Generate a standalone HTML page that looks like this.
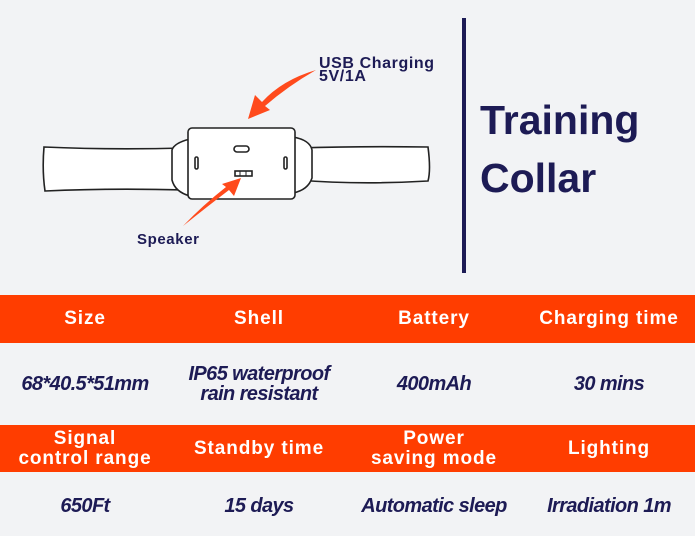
<!DOCTYPE html>
<html><head><meta charset="utf-8"><style>
body{margin:0;width:695px;height:536px;background:#f2f3f5;position:relative;overflow:hidden;font-family:"Liberation Sans",sans-serif}
.band{position:absolute;left:0;width:695px;background:#ff3d00}
.c{position:absolute;width:174px;text-align:center;transform:translateY(-50%)}
.h{color:#fff;font-weight:bold;font-size:19px;line-height:20px;letter-spacing:0.9px}
.v{color:#1d1b55;font-weight:bold;font-style:italic;font-size:20px;line-height:20px;letter-spacing:-0.6px}
</style></head><body>
<svg width="695" height="290" style="position:absolute;left:0;top:0">
<g fill="#fff" stroke="#222" stroke-width="1.6">
<path d="M44 147 Q110 150 185 148 L185 190 Q110 188 45 191 Q42 170 44 147Z"/>
<path d="M297 148 Q360 146 428 147 Q431 170 428 181 Q360 185 297 180Z"/>
<path d="M190 139 Q174 143 172 150 L172 180 Q175 192 190 196Z"/>
<path d="M293 137 Q310 140 312 150 L312 178 Q308 190 293 193Z"/>
<rect x="188" y="128" width="107" height="71" rx="4"/>
<rect x="234" y="146" width="15" height="6" rx="3"/>
<rect x="235" y="171" width="17" height="5"/>
<rect x="195" y="157" width="3" height="12" rx="1.5"/>
<rect x="284" y="157" width="3" height="12" rx="1.5"/>
</g>
<line x1="240" y1="171" x2="240" y2="176" stroke="#222"/><line x1="246" y1="171" x2="246" y2="176" stroke="#222"/>
<path d="M316 70 Q282 80 262 102 L255 95 L248 119 L270 110 L265 106 Q288 86 316 70Z" fill="#ff4a1c"/>
<path d="M183 226 Q208 206 229 190 L234 196 L241 178 L222 184 L226 187 Q203 205 183 226Z" fill="#ff4a1c"/>
<text x="319" y="68" font-family="Liberation Sans" font-weight="bold" font-size="16" letter-spacing="0.6" fill="#1d1b55">USB Charging</text>
<text x="319" y="81" font-family="Liberation Sans" font-weight="bold" font-size="16" letter-spacing="0.6" fill="#1d1b55">5V/1A</text>
<text x="137" y="244" font-family="Liberation Sans" font-weight="bold" font-size="15" letter-spacing="0.6" fill="#1d1b55">Speaker</text>
<rect x="462" y="18" width="4" height="255" fill="#1d1b55"/>
<text x="480" y="134" font-family="Liberation Sans" font-weight="bold" font-size="41" fill="#1d1b55">Training</text>
<text x="480" y="192" font-family="Liberation Sans" font-weight="bold" font-size="41" fill="#1d1b55">Collar</text>
</svg>
<div class="band" style="top:295px;height:48px"></div>
<div class="band" style="top:425px;height:47px"></div>
<div class="c h" style="left:-2px;top:319px">Size</div>
<div class="c h" style="left:172px;top:319px">Shell</div>
<div class="c h" style="left:347px;top:319px">Battery</div>
<div class="c h" style="left:522px;top:319px">Charging time</div>
<div class="c v" style="left:-2px;top:384px">68*40.5*51mm</div>
<div class="c v" style="left:172px;top:384px">IP65 waterproof<br>rain resistant</div>
<div class="c v" style="left:347px;top:384px">400mAh</div>
<div class="c v" style="left:522px;top:384px">30 mins</div>
<div class="c h" style="left:-2px;top:449px">Signal<br>control range</div>
<div class="c h" style="left:172px;top:449px">Standby time</div>
<div class="c h" style="left:347px;top:449px">Power<br>saving mode</div>
<div class="c h" style="left:522px;top:449px">Lighting</div>
<div class="c v" style="left:-2px;top:506px">650Ft</div>
<div class="c v" style="left:172px;top:506px">15 days</div>
<div class="c v" style="left:347px;top:506px">Automatic sleep</div>
<div class="c v" style="left:522px;top:506px">Irradiation 1m</div>
</body></html>
